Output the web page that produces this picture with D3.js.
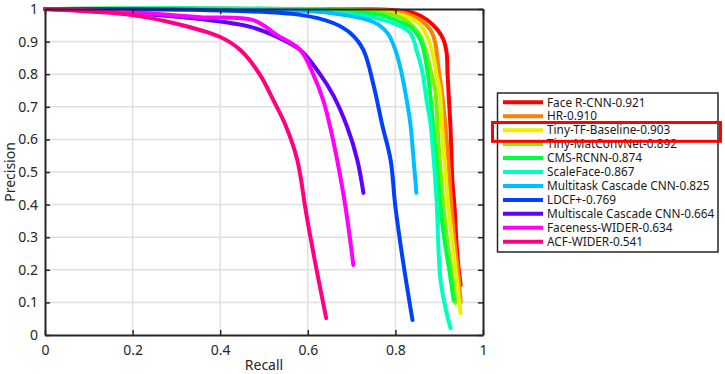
<!DOCTYPE html>
<html>
<head>
<meta charset="utf-8">
<script src="https://cdn.jsdelivr.net/npm/d3@7"></script>
<style>
body { margin: 0; background: #fff; }
svg { display: block; font-family: "Noto Sans", sans-serif; }
.axis path, .axis line { stroke: #262626; }
.axis text { fill: #262626; font-size: 14px; font-family: "Noto Sans", sans-serif; }
.grid line { stroke: #e0e0e0; stroke-width: 1.5; }
.curve { fill: none; stroke-width: 4; stroke-linejoin: round; stroke-linecap: round; }
</style>
</head>
<body>
<svg id="chart" width="725" height="374"></svg>
<script>
// method names, in legend order
var methods = ['Face R-CNN-0.921', 'HR-0.910', 'Tiny-TF-Baseline-0.903', 'Tiny-MatConvNet-0.892',
    'CMS-RCNN-0.874', 'ScaleFace-0.867', 'Multitask Cascade CNN-0.825', 'LDCF+-0.769',
    'Multiscale Cascade CNN-0.664', 'Faceness-WIDER-0.634', 'ACF-WIDER-0.541'];

var palette = ['#ff0000', '#ff8000', '#e8f000', '#80f000', '#00ff40', '#00ffc0',
    '#00bfff', '#0040ff', '#6000ff', '#ff00ff', '#ff0080'];

// [recall, precision]
var faceRcnn = [[0, 1], [0.651, 1], [0.789, 0.997], [0.841, 0.988], [0.873, 0.966], [0.896, 0.936],
    [0.910, 0.905], [0.917, 0.865], [0.919, 0.804], [0.921, 0.752], [0.926, 0.629], [0.930, 0.475],
    [0.935, 0.393], [0.939, 0.291], [0.944, 0.209], [0.949, 0.153]];
var hr = [[0, 1], [0.651, 1], [0.766, 0.997], [0.818, 0.988], [0.857, 0.966], [0.880, 0.936],
    [0.891, 0.896], [0.898, 0.822], [0.907, 0.736], [0.919, 0.567], [0.928, 0.393], [0.937, 0.261],
    [0.942, 0.209], [0.949, 0.101]];
var tinyTf = [[0, 1], [0.651, 0.997], [0.789, 0.988], [0.834, 0.972], [0.857, 0.951], [0.873, 0.914],
    [0.885, 0.865], [0.894, 0.798], [0.901, 0.752], [0.907, 0.629], [0.914, 0.506], [0.921, 0.393],
    [0.930, 0.291], [0.937, 0.209], [0.949, 0.067]];
var tinyMat = [[0, 1], [0.651, 0.997], [0.777, 0.988], [0.823, 0.966], [0.853, 0.926], [0.869, 0.874],
    [0.880, 0.813], [0.891, 0.752], [0.898, 0.598], [0.910, 0.393], [0.921, 0.261], [0.928, 0.199],
    [0.937, 0.098]];
var cmsRcnn = [[0, 1], [0.629, 0.997], [0.766, 0.982], [0.811, 0.960], [0.834, 0.945], [0.857, 0.905],
    [0.869, 0.844], [0.878, 0.758], [0.887, 0.629], [0.896, 0.506], [0.903, 0.393], [0.912, 0.291],
    [0.923, 0.199], [0.933, 0.107]];
var scaleFace = [[0, 1], [0.583, 0.997], [0.743, 0.975], [0.805, 0.951], [0.834, 0.926], [0.850, 0.865],
    [0.862, 0.804], [0.871, 0.721], [0.880, 0.650], [0.887, 0.546], [0.894, 0.414], [0.903, 0.169],
    [0.919, 0.055], [0.926, 0.021]];
var multitask = [[0, 1], [0.469, 0.997], [0.651, 0.988], [0.750, 0.960], [0.782, 0.926], [0.800, 0.874],
    [0.811, 0.822], [0.823, 0.742], [0.834, 0.650], [0.841, 0.546], [0.848, 0.436]];
var ldcf = [[0, 1], [0.354, 0.997], [0.583, 0.982], [0.658, 0.957], [0.697, 0.926], [0.727, 0.874],
    [0.750, 0.767], [0.770, 0.644], [0.789, 0.537], [0.800, 0.393], [0.818, 0.221], [0.839, 0.046]];
var multiscale = [[0, 1], [0.194, 0.988], [0.354, 0.969], [0.469, 0.945], [0.530, 0.914], [0.583, 0.874],
    [0.629, 0.798], [0.658, 0.736], [0.690, 0.638], [0.713, 0.537], [0.727, 0.436]];
var faceness = [[0, 1], [0.194, 0.991], [0.354, 0.975], [0.475, 0.966], [0.530, 0.920], [0.583, 0.874],
    [0.613, 0.798], [0.635, 0.721], [0.651, 0.638], [0.667, 0.537], [0.686, 0.393], [0.704, 0.215]];
var acf = [[0, 1], [0.194, 0.982], [0.293, 0.957], [0.400, 0.914], [0.446, 0.874], [0.491, 0.798],
    [0.521, 0.721], [0.549, 0.644], [0.576, 0.537], [0.594, 0.393], [0.603, 0.322], [0.617, 0.221],
    [0.642, 0.052]];

var curves = [faceRcnn, hr, tinyTf, tinyMat, cmsRcnn, scaleFace, multitask, ldcf, multiscale, faceness, acf];

var xTicks = [0, 0.2, 0.4, 0.6, 0.8, 1];
var yTicks = [0, 0.1, 0.2, 0.3, 0.4, 0.5, 0.6, 0.7, 0.8, 0.9, 1];

var svg = d3.select('#chart');
var plotLeft = 45, plotRight = 483, plotTop = 9, plotBottom = 335;

var x = d3.scaleLinear().domain([0, 1]).range([plotLeft, plotRight]);
var y = d3.scaleLinear().domain([0, 1]).range([plotBottom, plotTop]);

function fmt(d) { return d === 0 || d === 1 ? String(d) : d3.format('.1f')(d); }

// grid
var grid = svg.append('g').classed('grid', true);
grid.selectAll('.gx').data(xTicks.slice(1, -1))
    .enter().append('line')
        .attr('x1', x).attr('x2', x)
        .attr('y1', plotTop).attr('y2', plotBottom);
grid.selectAll('.gy').data(yTicks.slice(1, -1))
    .enter().append('line')
        .attr('x1', plotLeft).attr('x2', plotRight)
        .attr('y1', y).attr('y2', y);

// curves
var line = d3.line()
    .x(function(d) { return x(d[0]); })
    .y(function(d) { return y(d[1]); })
    .curve(d3.curveCatmullRom.alpha(0.5));

svg.append('g').selectAll('path')
        .data(curves)
    .enter().append('path')
        .classed('curve', true)
        .attr('stroke', function(d, i) { return palette[i]; })
        .attr('d', line);

// axes (box with inward ticks)
svg.append('g').classed('axis', true)
    .attr('transform', 'translate(0,' + plotBottom + ')')
    .call(d3.axisBottom(x).tickValues(xTicks).tickFormat(fmt).tickSizeInner(-5).tickSizeOuter(0).tickPadding(10));
svg.append('g').classed('axis', true)
    .attr('transform', 'translate(' + plotLeft + ',0)')
    .call(d3.axisLeft(y).tickValues(yTicks).tickFormat(fmt).tickSizeInner(-5).tickSizeOuter(0).tickPadding(7));
svg.append('g').classed('axis', true)
    .attr('transform', 'translate(0,' + plotTop + ')')
    .call(d3.axisTop(x).tickValues(xTicks).tickFormat('').tickSizeInner(-5).tickSizeOuter(0));
svg.append('g').classed('axis', true)
    .attr('transform', 'translate(' + plotRight + ',0)')
    .call(d3.axisRight(y).tickValues(yTicks).tickFormat('').tickSizeInner(-5).tickSizeOuter(0));
svg.selectAll('.axis path.domain').attr('stroke-width', 2);
svg.selectAll('.axis .tick line').attr('stroke-width', 1.5);

// axis labels
svg.append('text')
    .attr('x', (plotLeft + plotRight) / 2)
    .attr('y', 370)
    .attr('text-anchor', 'middle')
    .attr('font-size', 14)
    .attr('fill', '#262626')
    .text('Recall');
svg.append('text')
    .attr('transform', 'translate(15,' + (plotTop + plotBottom) / 2 + ') rotate(-90)')
    .attr('text-anchor', 'middle')
    .attr('font-size', 14)
    .attr('fill', '#262626')
    .text('Precision');

// legend
var legend = svg.append('g');
legend.append('rect')
    .attr('x', 497.5).attr('y', 93)
    .attr('width', 220.5).attr('height', 159)
    .attr('fill', '#fff')
    .attr('stroke', '#262626')
    .attr('stroke-width', 1.5);

var entries = legend.selectAll('.entry')
        .data(methods)
    .enter().append('g')
        .attr('transform', function(d, i) { return 'translate(503,' + (102.3 + i * 13.94) + ')'; });
entries.append('line')
    .attr('x1', 0).attr('x2', 40)
    .attr('y1', 0).attr('y2', 0)
    .attr('stroke', function(d, i) { return palette[i]; })
    .attr('stroke-width', 4);
entries.append('text')
    .attr('x', 44)
    .attr('dy', '0.36em')
    .attr('font-size', 11.8)
    .attr('fill', '#1a1a1a')
    .text(function(d) { return d; });

// highlight box around Tiny-TF-Baseline
svg.append('rect')
    .attr('x', 492.5).attr('y', 122.5)
    .attr('width', 228).attr('height', 18.8)
    .attr('fill', 'none')
    .attr('stroke', '#ff0000')
    .attr('stroke-width', 3);
</script>
</body>
</html>
